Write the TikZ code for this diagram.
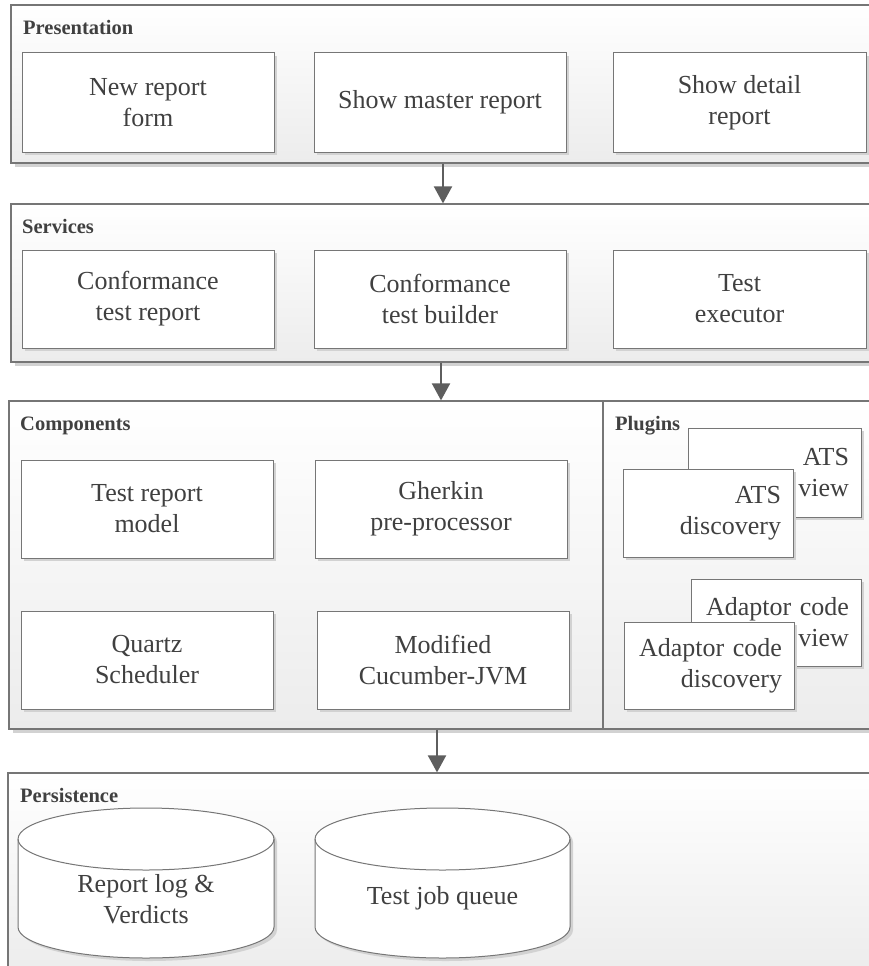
\documentclass[tikz,border=0pt]{standalone}
\usepackage{fontspec}
\setmainfont{Liberation Serif}
\usetikzlibrary{arrows.meta,shadows}
\definecolor{framec}{HTML}{767676}
\definecolor{txt}{HTML}{404040}
\definecolor{arrc}{HTML}{5E5E5E}
\definecolor{shad}{HTML}{D2D2D2}
\definecolor{layerbot}{HTML}{ECECEC}
\begin{document}
\begin{tikzpicture}[x=1pt,y=-1pt,
  layer/.style={draw=framec, line width=1.2pt, rectangle, inner sep=0pt,
    top color=white, bottom color=layerbot,
    drop shadow={shadow xshift=4pt, shadow yshift=-4pt, fill=shad, opacity=1}},
  lab/.style={font=\fontsize{20.5}{24}\selectfont\bfseries, text=txt, anchor=base west, inner sep=0pt},
  box/.style={draw=framec, line width=1pt, fill=white, inner sep=0pt, align=center, text=txt,
    font=\fontsize{26}{31}\selectfont,
    drop shadow={shadow xshift=3pt, shadow yshift=-3pt, fill=shad, opacity=1}},
  pbox/.style={box, align=right, inner xsep=12pt},
  arr/.style={draw=arrc, line width=2pt, -{Triangle[width=18pt,length=17pt]}},
  cyl/.style={draw=framec, line width=1pt, fill=white},
  cylshad/.style={fill=shad},
  dbtext/.style={align=center, text=txt, font=\fontsize{26}{31}\selectfont, inner sep=0pt}
]
\useasboundingbox (0,0) rectangle (868,966);
\fill[white] (0,0) rectangle (868,966);

% Layers
\node[layer, minimum width=861pt, minimum height=158pt] (pres) at (441.5,84) {};
\node[layer, minimum width=861pt, minimum height=158pt] (serv) at (441.5,283) {};
\node[layer, minimum width=594pt, minimum height=328pt] (comp) at (306,565) {};
\node[layer, minimum width=269pt, minimum height=328pt] (plug) at (737.5,565) {};
\node[layer, minimum width=864pt, minimum height=202pt] (pers) at (440,874) {};

% Layer labels
\node[lab] (lpres) at (23,35) {Presentation};
\node[lab] (lserv) at (22,233) {Services};
\node[lab] (lcomp) at (20,430) {Components};
\node[lab] (lplug) at (615,430) {Plugins};
\node[lab] (lpers) at (20,802) {Persistence};

% Presentation boxes
\node[box, minimum width=252pt, minimum height=99pt] (p1) at (148,102.5) {New report\\form};
\node[box, minimum width=252pt, minimum height=99pt] (p2) at (440,102.5) {Show master report};
\node[box, minimum width=253pt, minimum height=99pt] (p3) at (739.5,102.5) {Show detail\\report};

% Services boxes
\node[box, minimum width=252pt, minimum height=98pt] (s1) at (148,299) {Conformance\\test report};
\node[box, minimum width=252pt, minimum height=98pt] (s2) at (440,299) {Conformance\\test builder};
\node[box, minimum width=253pt, minimum height=98pt] (s3) at (739.5,299) {Test\\executor};

% Components boxes
\node[box, minimum width=252pt, minimum height=98pt] (c1) at (147,509) {Test report\\model};
\node[box, minimum width=252pt, minimum height=98pt] (c2) at (441,509) {Gherkin\\pre-processor};
\node[box, minimum width=252pt, minimum height=98pt] (c3) at (147,660) {Quartz\\Scheduler};
\node[box, minimum width=252pt, minimum height=98pt] (c4) at (443,660) {Modified\\Cucumber-JVM};

% Plugins boxes
\node[pbox, text width=149pt, minimum height=89pt] (g1) at (774.5,472.5) {ATS\\view};
\node[pbox, text width=146pt, minimum height=88pt] (g2) at (708,513) {ATS\\discovery};
\node[pbox, text width=146pt, minimum height=87pt] (g3) at (776,622.5) {Adaptor code\\view};
\node[pbox, text width=146pt, minimum height=87pt] (g4) at (709,665.5) {Adaptor code\\discovery};

% Cylinders (shadows)
\begin{scope}[shift={(3,3)}]
\fill[cylshad] (18,839) -- (18,927) arc[start angle=180,end angle=0,x radius=128,y radius=31]
  -- (274,839) arc[start angle=0,end angle=-180,x radius=128,y radius=31] -- cycle;
\fill[cylshad] (315,839) -- (315,927) arc[start angle=180,end angle=0,x radius=127.5,y radius=31]
  -- (570,839) arc[start angle=0,end angle=-180,x radius=127.5,y radius=31] -- cycle;
\end{scope}
% Cylinders
\draw[cyl] (18,839) -- (18,927) arc[start angle=180,end angle=0,x radius=128,y radius=31]
  -- (274,839) arc[start angle=0,end angle=-180,x radius=128,y radius=31] -- cycle;
\draw[draw=framec, line width=1pt] (18,839) arc[start angle=180,end angle=0,x radius=128,y radius=31];
\draw[cyl] (315,839) -- (315,927) arc[start angle=180,end angle=0,x radius=127.5,y radius=31]
  -- (570,839) arc[start angle=0,end angle=-180,x radius=127.5,y radius=31] -- cycle;
\draw[draw=framec, line width=1pt] (315,839) arc[start angle=180,end angle=0,x radius=127.5,y radius=31];
\node[dbtext] (db1) at (146,899) {Report log \&\\Verdicts};
\node[dbtext] (db2) at (442.5,898) {Test job queue};

% Arrows
\coordinate (ax1) at (443,0);
\coordinate (ax2) at (441,0);
\coordinate (ax3) at (437,0);
\draw[arr] (pres.south -| ax1) -- (serv.north -| ax1);
\draw[arr] (serv.south -| ax2) -- (comp.north -| ax2);
\draw[arr] (comp.south -| ax3) -- (pers.north -| ax3);
\end{tikzpicture}
\end{document}
